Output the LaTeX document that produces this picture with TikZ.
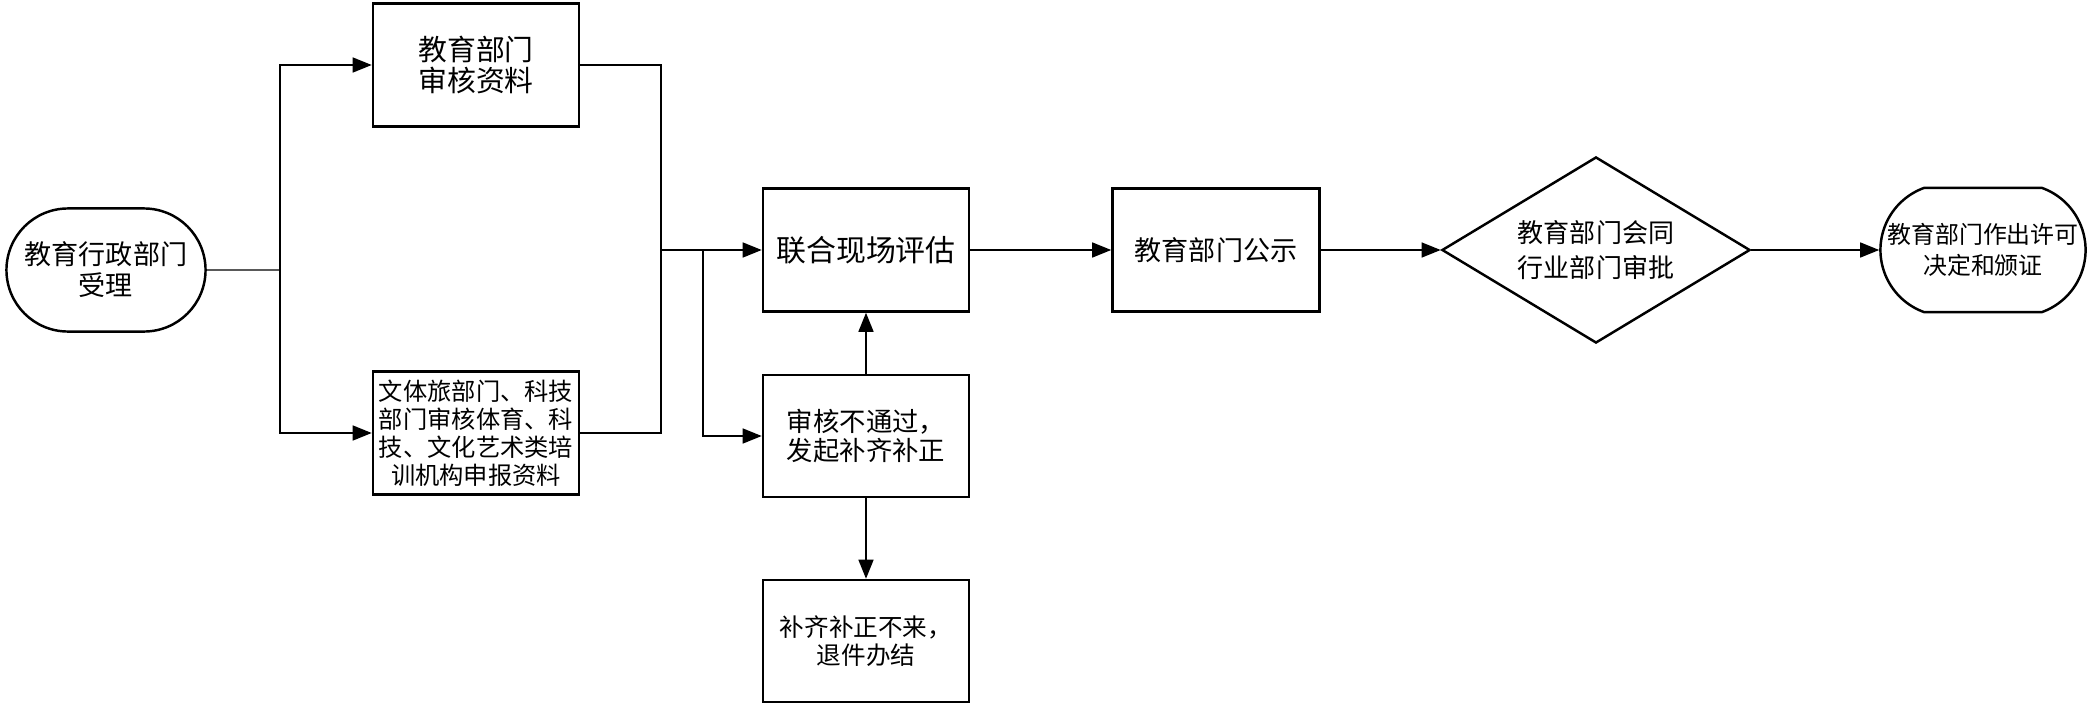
\documentclass[tikz,border=0pt]{standalone}
\usepackage{fontspec}
\newfontfamily\cjk{Noto Sans CJK SC}
\usetikzlibrary{shapes.geometric, shapes.misc, arrows.meta}

\begin{document}
\begin{tikzpicture}[x=0.01cm, y=-0.01cm, line width=0.4pt,
    >={Triangle[length=0.19cm, width=0.15cm]},
    box/.style={draw, line width=0.7pt, minimum width=2.06cm, minimum height=1.23cm,
        inner sep=1pt, align=center, font=\cjk\fontsize{7.7pt}{8.8pt}\selectfont},
    term/.style={box, rounded rectangle, rounded rectangle arc length=180},
    decide/.style={box, diamond, shape aspect=1.656, minimum width=3.08cm, minimum height=1.86cm, inner sep=0pt}]
    \useasboundingbox (0,0) rectangle (2090,706);

    % nodes
    \node[term] (start) at (106,270) {教育行政部门\\受理};
    \node[box, font=\cjk\fontsize{8.2pt}{9pt}\selectfont] (chkEdu) at (476,65) {教育部门\\审核资料};
    \node[box, font=\cjk\fontsize{6.9pt}{8pt}\selectfont] (chkOther) at (476,433)
        {文体旅部门、科技\\部门审核体育、科\\技、文化艺术类培\\训机构申报资料};
    \node[box, font=\cjk\fontsize{8.5pt}{9pt}\selectfont] (assess) at (866,250) {联合现场评估};
    \node[box, minimum height=1.22cm, font=\cjk\fontsize{7.5pt}{8.2pt}\selectfont] (fix) at (866,436) {审核不通过，\\发起补齐补正};
    \node[box, minimum height=1.22cm, font=\cjk\fontsize{7pt}{7.8pt}\selectfont] (quit) at (866,641) {补齐补正不来，\\退件办结};
    \node[box, minimum width=2.07cm] (notice) at (1216,250) {教育部门公示};
    \node[decide, font=\cjk\fontsize{7.4pt}{10pt}\selectfont] (approve) at (1596,250) {教育部门会同\\行业部门审批};
    \node[box, rounded rectangle, rounded rectangle arc length=140, minimum width=2.05cm,
        minimum height=1.24cm, inner xsep=0pt, font=\cjk\fontsize{6.8pt}{9pt}\selectfont] (issue) at (1983,250)
        {教育部门作出许可\\决定和颁证};

    % connectors
    \coordinate (split) at (280,270);
    \coordinate (merge) at (661,250);
    \coordinate (back) at (703,250);
    \draw (start) -- (split);
    \draw[->] (split) |- (chkEdu);
    \draw[->] (split) |- (chkOther);
    \draw (chkEdu) -| (merge);
    \draw (chkOther) -| (merge);
    \draw[->] (merge) -- (assess);
    \draw[->] (back) |- (fix);
    \draw[->] (fix) -- (assess);
    \draw[->] (fix) -- (quit);
    \draw[->] (assess) -- (notice);
    \draw[->] (notice) -- (approve);
    \draw[->] (approve) -- (issue);
\end{tikzpicture}
\end{document}
